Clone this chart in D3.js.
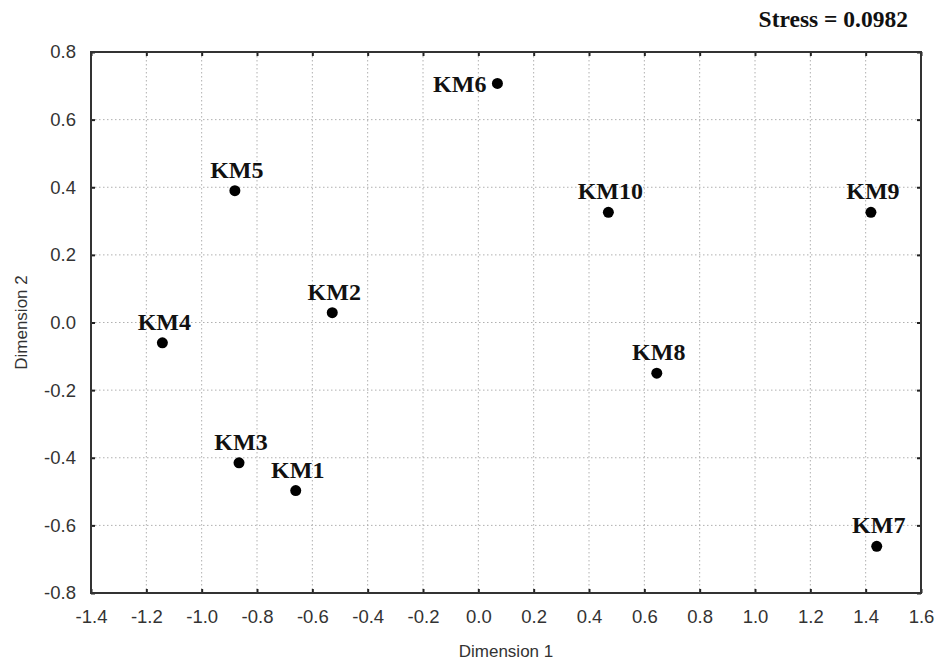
<!DOCTYPE html>
<html>
<head>
<meta charset="utf-8">
<script src="https://cdn.jsdelivr.net/npm/d3@7"></script>
<style>
  html, body { margin: 0; padding: 0; background: #fff; }
  svg { display: block; }
</style>
</head>
<body>
<svg id="chart" width="936" height="667"></svg>
<script>
// ---- Data ----
const labels = ["KM1", "KM2", "KM3", "KM4", "KM5", "KM6", "KM7", "KM8", "KM9", "KM10"];
const dim1   = [-0.660, -0.528, -0.865, -1.142, -0.880, 0.069, 1.440, 0.645, 1.419, 0.470];
const dim2   = [-0.497,  0.029, -0.415, -0.060,  0.390, 0.707, -0.662, -0.150, 0.326, 0.326];
const xTicks = [-1.4, -1.2, -1.0, -0.8, -0.6, -0.4, -0.2, 0.0, 0.2, 0.4, 0.6, 0.8, 1.0, 1.2, 1.4, 1.6];
const yTicks = [-0.8, -0.6, -0.4, -0.2, 0.0, 0.2, 0.4, 0.6, 0.8];
const xTitle = "Dimension 1";
const yTitle = "Dimension 2";
const stressText = "Stress = 0.0982";

// ---- Layout ----
const W = 936, H = 667;
const m = { left: 91, right: W - 921, top: 52, bottom: H - 593 };
const iw = W - m.left - m.right, ih = H - m.top - m.bottom;

const svg = d3.select("#chart");
const g = svg.append("g").attr("transform", `translate(${m.left},${m.top})`);

const x = d3.scaleLinear().domain([-1.4, 1.6]).range([0, iw]);
const y = d3.scaleLinear().domain([-0.8, 0.8]).range([ih, 0]);

const fmt = d => d3.format(".1f")(d).replace("\u2212", "-");
const sans = "'Liberation Sans', Arial, sans-serif";
const serif = "'Liberation Serif', 'Times New Roman', serif";

// Grid
g.append("g").selectAll("line").data(xTicks.slice(1, -1)).join("line")
  .attr("x1", d => x(d)).attr("x2", d => x(d)).attr("y1", 0).attr("y2", ih)
  .attr("stroke", "#b0b0b0").attr("stroke-width", 1).attr("stroke-dasharray", "1.5,2.5");
g.append("g").selectAll("line").data(yTicks.slice(1, -1)).join("line")
  .attr("y1", d => y(d)).attr("y2", d => y(d)).attr("x1", 0).attr("x2", iw)
  .attr("stroke", "#b0b0b0").attr("stroke-width", 1).attr("stroke-dasharray", "1.5,2.5");

// Axes with inward ticks
const axB = d3.axisBottom(x).tickValues(xTicks).tickFormat(fmt).tickSizeInner(-4).tickSizeOuter(0).tickPadding(17);
const axT = d3.axisTop(x).tickValues(xTicks).tickFormat("").tickSizeInner(-4).tickSizeOuter(0);
const axL = d3.axisLeft(y).tickValues(yTicks).tickFormat(fmt).tickSizeInner(-4).tickSizeOuter(0).tickPadding(15);
const axR = d3.axisRight(y).tickValues(yTicks).tickFormat("").tickSizeInner(-4).tickSizeOuter(0);

function styleAxis(sel) {
  sel.select(".domain").remove();
  sel.selectAll(".tick line").attr("stroke", "#222").attr("stroke-width", 2);
  sel.selectAll(".tick text").attr("fill", "#333").style("font-family", sans).style("font-size", "18.5px");
}
g.append("g").attr("transform", `translate(0,${ih})`).call(axB).call(styleAxis);
g.append("g").call(axT).call(styleAxis);
g.append("g").call(axL).call(styleAxis);
g.append("g").attr("transform", `translate(${iw},0)`).call(axR).call(styleAxis);

// Frame
g.append("rect").attr("x", 0).attr("y", 0).attr("width", iw).attr("height", ih)
  .attr("fill", "none").attr("stroke", "#333").attr("stroke-width", 2);

// Points
const pts = labels.map((l, i) => ({ label: l, x: dim1[i], y: dim2[i] }));
g.append("g").selectAll("circle").data(pts).join("circle")
  .attr("cx", d => x(d.x)).attr("cy", d => y(d.y)).attr("r", 5.5).attr("fill", "#000");

// Labels (KM6 sits left of its point, others centred above)
g.append("g").selectAll("text").data(pts).join("text")
  .attr("x", d => d.label === "KM6" ? x(d.x) - 11 : x(d.x) + 2)
  .attr("y", d => d.label === "KM6" ? y(d.y) + 9 : y(d.y) - 13)
  .attr("text-anchor", d => d.label === "KM6" ? "end" : "middle")
  .style("font-family", serif).style("font-weight", "bold").style("font-size", "24px")
  .attr("fill", "#111")
  .text(d => d.label);

// Titles
svg.append("text").attr("x", m.left + iw / 2).attr("y", 657)
  .attr("text-anchor", "middle").style("font-family", sans).style("font-size", "17px")
  .attr("fill", "#333").text(xTitle);
svg.append("text").attr("transform", `translate(27,${m.top + ih / 2}) rotate(-90)`)
  .attr("text-anchor", "middle").style("font-family", sans).style("font-size", "17px")
  .attr("fill", "#333").text(yTitle);
svg.append("text").attr("x", 908).attr("y", 27).attr("text-anchor", "end")
  .style("font-family", serif).style("font-weight", "bold").style("font-size", "23.5px")
  .attr("fill", "#111").text(stressText);
</script>
</body>
</html>
